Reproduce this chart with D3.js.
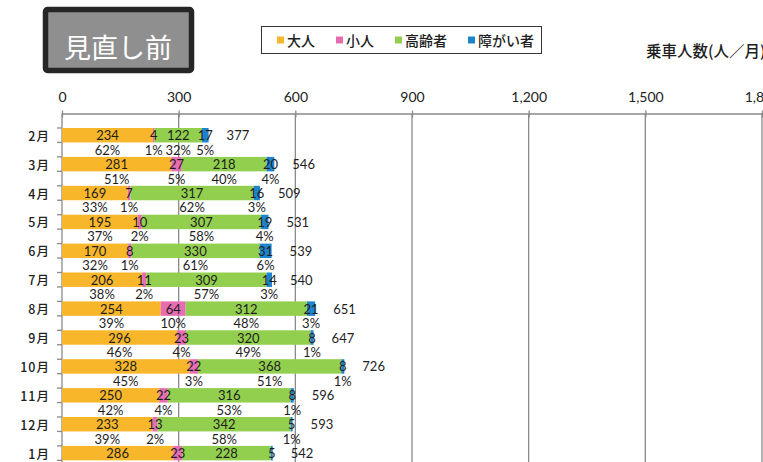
<!DOCTYPE html>
<html>
<head>
<meta charset="utf-8">
<script src="https://cdn.jsdelivr.net/npm/d3@7"></script>
<style>
  body { margin: 0; background: #fff; }
  svg { display: block; }
</style>
</head>
<body>
<svg id="chart" width="763" height="462"></svg>
<script>
// Monthly ridership by passenger type (people / month)
const months = ["2月","3月","4月","5月","6月","7月","8月","9月","10月","11月","12月","1月"];
const seriesNames = ["大人","小人","高齢者","障がい者"];
const adults   = [234, 281, 169, 195, 170, 206, 254, 296, 328, 250, 233, 286];
const children = [4, 27, 7, 10, 8, 11, 64, 23, 22, 22, 13, 23];
const seniors  = [122, 218, 317, 307, 330, 309, 312, 320, 368, 316, 342, 228];
const disabled = [17, 20, 16, 19, 31, 14, 21, 8, 8, 8, 5, 5];
const totals   = [377, 546, 509, 531, 539, 540, 651, 647, 726, 596, 593, 542];
// share of each type within the month (%)
const adultsPct   = [62, 51, 33, 37, 32, 38, 39, 46, 45, 42, 39, null];
const childrenPct = [1, 5, 1, 2, 1, 2, 10, 4, 3, 4, 2, null];
const seniorsPct  = [32, 40, 62, 58, 61, 57, 48, 49, 51, 53, 58, null];
const disabledPct = [5, 4, 3, 4, 6, 3, 3, 1, 1, 1, 1, null];
const xTicks = [0, 300, 600, 900, 1200, 1500, 1800];
const titleText = "見直し前";
const axisTitle = "乗車人数(人／月)";

const colors = ["#F8B62B", "#E66DB1", "#92CF4E", "#1D84CB"];
const numFont = "Lato, 'Noto Sans CJK JP', sans-serif";
const jpFont = "'Noto Sans CJK JP', sans-serif";

const rows = months.map((m, i) => ({
  month: m,
  "大人": adults[i], "小人": children[i], "高齢者": seniors[i], "障がい者": disabled[i],
  total: totals[i],
  pct: [adultsPct[i], childrenPct[i], seniorsPct[i], disabledPct[i]]
}));

const svg = d3.select("#chart");

const axisY = 113.5;
const x = d3.scaleLinear().domain([0, 1800]).range([62, 762]);
// each month has a bar row followed by a row of percentage labels
const y = d3.scaleBand().domain(months).range([128, 128 + months.length * 28.9]).paddingInner(0).paddingOuter(0);
const half = y.step() / 2;

// vertical gridlines
svg.append("g").selectAll("line")
  .data(xTicks.filter(d => d > 0))
  .join("line")
  .attr("x1", d => x(d)).attr("x2", d => x(d))
  .attr("y1", axisY).attr("y2", 462)
  .attr("stroke", "#8a8a8a").attr("stroke-width", 1.3);

// top value axis
const xAxis = svg.append("g")
  .attr("transform", `translate(0,${axisY})`)
  .call(d3.axisTop(x).tickValues(xTicks).tickFormat(d3.format(",")).tickSizeOuter(0));
xAxis.select(".domain").attr("stroke", "#8a8a8a").attr("stroke-width", 1.3);
xAxis.selectAll(".tick line").attr("y1", -3).attr("y2", 4).attr("stroke", "#8a8a8a").attr("stroke-width", 1.3);
xAxis.selectAll(".tick text")
  .attr("y", -12).attr("dy", 0)
  .attr("font-family", numFont).attr("font-size", 14).attr("fill", "#222");

// left category axis
const yAxis = svg.append("g");
yAxis.append("line")
  .attr("x1", x(0)).attr("x2", x(0)).attr("y1", axisY).attr("y2", 462)
  .attr("stroke", "#8a8a8a").attr("stroke-width", 1.3);
const tickYs = [];
months.forEach(m => { tickYs.push(y(m)); tickYs.push(y(m) + half); });
yAxis.selectAll("line.tk").data(tickYs).join("line").attr("class", "tk")
  .attr("x1", x(0) - 5).attr("x2", x(0))
  .attr("y1", d => d).attr("y2", d => d)
  .attr("stroke", "#8a8a8a").attr("stroke-width", 1.3);
yAxis.selectAll("text").data(months).join("text")
  .attr("x", 50).attr("y", d => y(d) + half / 2)
  .attr("text-anchor", "end").attr("dominant-baseline", "central")
  .attr("font-family", jpFont).attr("font-size", 12.5).attr("font-weight", 500)
  .attr("letter-spacing", 1).attr("fill", "#222")
  .text(d => d);

// stacked bars
const stack = d3.stack().keys(seriesNames);
const stacked = stack(rows);
const layers = svg.append("g").selectAll("g").data(stacked).join("g")
  .attr("fill", (d, i) => colors[i]);
layers.selectAll("rect").data(d => d).join("rect")
  .attr("x", d => x(d[0]))
  .attr("width", d => x(d[1]) - x(d[0]))
  .attr("y", d => y(d.data.month))
  .attr("height", half);

// value labels inside segments, percentage labels in the row below
const labels = svg.append("g").attr("font-family", numFont).attr("font-size", 13).attr("fill", "#1e1e1e")
  .attr("text-anchor", "middle");
stacked.forEach((layer, si) => {
  layer.forEach(d => {
    const cx = (x(d[0]) + x(d[1])) / 2;
    labels.append("text")
      .attr("x", cx).attr("y", y(d.data.month) + half / 2)
      .attr("dominant-baseline", "central")
      .text(d.data[layer.key]);
    const p = d.data.pct[si];
    if (p != null) {
      labels.append("text")
        .attr("x", cx).attr("y", y(d.data.month) + half * 1.5)
        .attr("dominant-baseline", "central")
        .text(p + "%");
    }
  });
});

// monthly totals
svg.append("g").selectAll("text").data(rows).join("text")
  .attr("x", d => x(d.total) + 18).attr("y", d => y(d.month) + half / 2)
  .attr("dominant-baseline", "central")
  .attr("font-family", numFont).attr("font-size", 13).attr("fill", "#1e1e1e")
  .text(d => d.total);

// title badge
const badge = svg.append("g");
badge.append("rect")
  .attr("x", 45.5).attr("y", 9.5).attr("width", 146).attr("height", 61).attr("rx", 2)
  .attr("fill", "#8f8f8f").attr("stroke", "#262626").attr("stroke-width", 5.5);
badge.append("text")
  .attr("x", 118).attr("y", 46)
  .attr("text-anchor", "middle").attr("dominant-baseline", "central")
  .attr("font-family", jpFont).attr("font-size", 27).attr("fill", "#fff")
  .text(titleText);

// legend
const legend = svg.append("g");
legend.append("rect")
  .attr("x", 261.5).attr("y", 26.5).attr("width", 280).attr("height", 27)
  .attr("fill", "#fff").attr("stroke", "#333").attr("stroke-width", 1);
let lx = 277;
seriesNames.forEach((name, i) => {
  legend.append("rect").attr("x", lx).attr("y", 36.5).attr("width", 7).attr("height", 7).attr("fill", colors[i]);
  const t = legend.append("text")
    .attr("x", lx + 10).attr("y", 40).attr("dominant-baseline", "central")
    .attr("font-family", jpFont).attr("font-size", 14).attr("font-weight", 500).attr("fill", "#1e1e1e")
    .text(name);
  lx += 10 + t.node().getComputedTextLength() + 21;
});

// axis title (runs off the right edge)
svg.append("text")
  .attr("x", 646).attr("y", 50).attr("dominant-baseline", "central")
  .attr("font-family", jpFont).attr("font-size", 15.5).attr("font-weight", 500).attr("fill", "#1e1e1e")
  .text(axisTitle);
</script>
</body>
</html>
